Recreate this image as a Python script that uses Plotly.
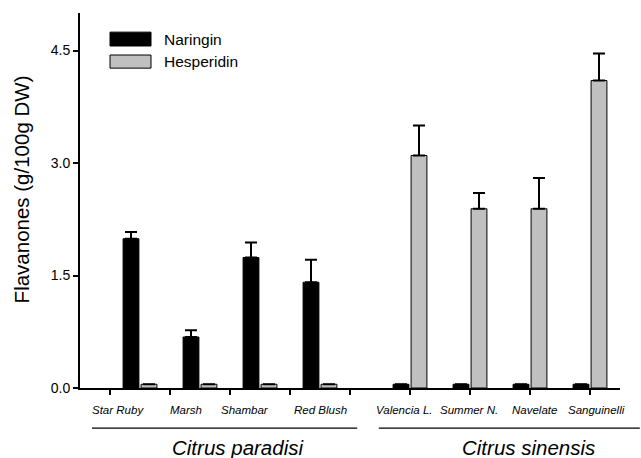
import plotly.graph_objects as go

categories = ["Star Ruby", "Marsh", "Shambar", "Red Blush",
              "Valencia L.", "Summer N.", "Navelate", "Sanguinelli"]
species = ["Citrus paradisi", "Citrus sinensis"]
positions = [0.5, 1.5, 2.5, 3.5, 5, 6, 7, 8]
naringin = [1.99, 0.68, 1.74, 1.41, 0.05, 0.05, 0.05, 0.05]
naringin_err = [0.09, 0.09, 0.20, 0.30, 0, 0, 0, 0]
hesperidin = [0.05, 0.05, 0.05, 0.05, 3.10, 2.39, 2.39, 4.10]
hesperidin_err = [0, 0, 0, 0, 0.40, 0.21, 0.41, 0.36]
label_pos = [0.13, 1.27, 2.25, 3.5, 4.9, 5.98, 7.08, 8.1]
yticks = [0, 1.5, 3.0, 4.5]

FONT = "Liberation Sans, Arial, Helvetica, sans-serif"

fig = go.Figure()
fig.add_trace(go.Bar(
    x=positions, y=naringin, name="Naringin",
    marker=dict(color="black", line=dict(color="black", width=1)),
    error_y=dict(type="data", array=naringin_err, arrayminus=[0]*8,
                 symmetric=False, color="black", thickness=2, width=6),
))
fig.add_trace(go.Bar(
    x=positions, y=hesperidin, name="Hesperidin",
    marker=dict(color="#c0c0c0", line=dict(color="black", width=1)),
    error_y=dict(type="data", array=hesperidin_err, arrayminus=[0]*8,
                 symmetric=False, color="black", thickness=2, width=6),
))

fig.update_layout(
    width=641, height=458,
    margin=dict(l=80, r=21, t=13, b=70),
    paper_bgcolor="white", plot_bgcolor="white",
    barmode="group", bargap=0.4, bargroupgap=0.12,
    showlegend=False,
    font=dict(family=FONT, color="black"),
    xaxis=dict(range=[-0.5, 8.5], tickmode="array", tickvals=list(range(9)),
               ticktext=[""] * 9, ticks="outside", ticklen=5, tickwidth=2,
               tickcolor="black", showline=True, linecolor="black", linewidth=2,
               showgrid=False, zeroline=False),
    yaxis=dict(range=[0, 5.0], tickmode="array", tickvals=yticks,
               ticktext=[f"{v:.1f}" for v in yticks], ticks="outside",
               ticklen=5, tickwidth=2, tickcolor="black", showline=True,
               linecolor="black", linewidth=2, showgrid=False, zeroline=False,
               tickfont=dict(size=14, family=FONT)),
)

# Category labels
for lab, xp in zip(categories, label_pos):
    fig.add_annotation(x=xp, y=-0.059, xref="x", yref="paper", text=f"<i>{lab}</i>",
                       showarrow=False, font=dict(size=11.5, family=FONT),
                       xanchor="center", yanchor="middle")

# Species group lines and labels
group_lines = [(-0.3, 4.12), (4.48, 8.83)]
group_centers = [2.13, 6.97]
for sp, (x0, x1), xc in zip(species, group_lines, group_centers):
    fig.add_shape(type="line", xref="paper", yref="paper",
                  x0=(x0 + 0.5) / 9, x1=(x1 + 0.5) / 9, y0=-0.107, y1=-0.107,
                  line=dict(color="black", width=1.2))
    fig.add_annotation(x=(xc + 0.5) / 9, y=-0.16, xref="paper", yref="paper",
                       text=f"<i>{sp}</i>", showarrow=False,
                       font=dict(size=20.5, family=FONT), xanchor="center",
                       yanchor="middle")

# Y-axis title
fig.add_annotation(x=-0.109, y=0.53, xref="paper", yref="paper",
                   text="Flavanones (g/100g DW)", textangle=-90, showarrow=False,
                   font=dict(size=20.5, family=FONT), xanchor="center",
                   yanchor="middle")

# Legend
legend_items = [("Naringin", "black", 0.949, 0.912), ("Hesperidin", "#c0c0c0", 0.888, 0.853)]
for name, col, y1, y0 in legend_items:
    fig.add_shape(type="rect", xref="paper", yref="paper", x0=0.0556, x1=0.1315,
                  y0=y0, y1=y1, fillcolor=col, line=dict(color="black", width=1))
    fig.add_annotation(x=0.152, y=(y0 + y1) / 2, xref="paper", yref="paper",
                       text=name, showarrow=False, xanchor="left", yanchor="middle",
                       font=dict(size=15.5, family=FONT))

fig.write_html("out.html", config={"displayModeBar": False},
               post_script="document.body.style.margin='0';")
